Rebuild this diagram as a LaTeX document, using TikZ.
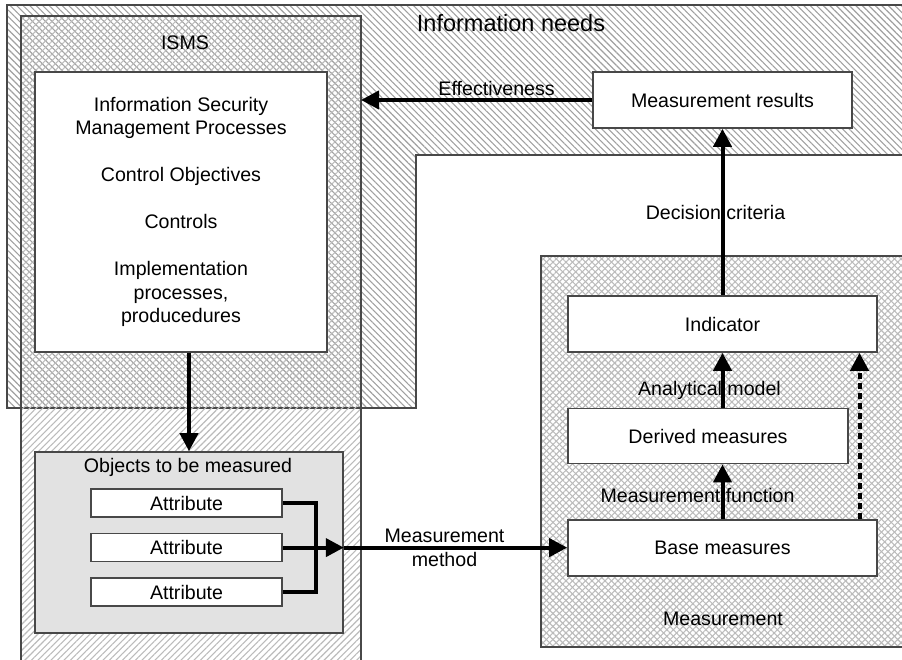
\documentclass[tikz,border=0pt]{standalone}
\usepackage{fontspec}
\setmainfont{Liberation Sans}
\usetikzlibrary{positioning}
\usetikzlibrary{arrows.meta}
\usetikzlibrary{patterns.meta}

\definecolor{edgegray}{HTML}{484848}
\definecolor{hatchgray}{HTML}{A0A0A0}
\definecolor{palehatch}{HTML}{BBBBBB}
\definecolor{objgray}{HTML}{E2E2E2}

\tikzset{
  box/.style={draw=edgegray, line width=1.6pt, fill=white, inner sep=0pt},
  region/.style={draw=edgegray, line width=1.8pt},
  needshatch/.style={pattern={Lines[angle=-45,distance=4.6pt,line width=1.1pt]}, pattern color=hatchgray},
  ismshatch/.style={pattern={Lines[angle=45,distance=4.6pt,line width=1.1pt]}, pattern color=palehatch},
  meascross/.style={pattern={Lines[angle=-45,distance=4.6pt,line width=1.1pt]}, pattern color=palehatch},
  flow/.style={line width=4pt, -{Triangle[length=18pt,width=18pt]}},
  lbl/.style={inner sep=0pt},
}

\begin{document}
\begin{tikzpicture}[x=1pt, y=-1pt, font=\fontsize{19.6}{23.5}\selectfont]
\useasboundingbox (0,0) rectangle (902,659);

% information needs area
\path[region, needshatch] (7,5) -- (912,5) -- (912,155) -- (416,155) -- (416,408) -- (7,408) -- cycle;
\node (needs) at (511,23) {\fontsize{23.5}{28}\selectfont Information needs};

% ISMS column
\path[region, ismshatch] (21,16) rectangle (361,672);
\node (ismstitle) at (185,43) {ISMS};
\node[box, minimum width=292pt, minimum height=280pt, align=center] (procs) at (181,212)
  {Information Security\\Management Processes\\[23.5pt]Control Objectives\\[23.5pt]Controls\\[23.5pt]Implementation\\processes,\\producedures};

% measurement area
\path[meascross] (541,256) rectangle (912,647);
\path[region, ismshatch] (541,256) rectangle (912,647);
\node (meastitle) at (723,619) {Measurement};

\node[box, minimum width=309pt, minimum height=56pt] (indicator) at (722.5,324) {Indicator};
\node[box, minimum width=280pt, minimum height=55pt, below=55pt of indicator.south west, anchor=north west] (derived) {Derived measures};
\node[box, minimum width=309pt, minimum height=56pt, below=55pt of derived.south west, anchor=north west] (base) {Base measures};

\node[box, minimum width=259pt, minimum height=56pt] (results) at (722.5,100) {Measurement results};

% objects
\node[box, fill=objgray, minimum width=308pt, minimum height=181pt] (objects) at (189,542.5) {};
\node (objtitle) at (188,467) {Objects to be measured};
\node[box, minimum width=191pt, minimum height=28pt] (attr1) at (186.5,503) {Attribute};
\node[box, minimum width=191pt, minimum height=28pt, below=15pt of attr1] (attr2) {Attribute};
\node[box, minimum width=191pt, minimum height=28pt, below=15pt of attr2] (attr3) {Attribute};

% connectors
\coordinate (ismsedge) at (361,100);
\draw[flow] (procs.south -| objects.north) -- (objects.north);
\draw[line width=4pt] (attr1.east) -- ++(33,0) |- (attr3.east);
\draw[flow] (attr2.east) -- (attr2.east -| objects.east);
\draw[flow] (attr2.east -| objects.east) -- node[lbl, align=center, xshift=-11pt] {Measurement\\method} (attr2.east -| base.west);
\draw[flow] (base.north) -- node[lbl, xshift=-25pt, yshift=-4pt] {Measurement function} (base.north |- derived.south);
\draw[flow] (indicator.south |- derived.north) -- node[lbl, xshift=-13pt, yshift=-10pt] {Analytical model} (indicator.south);
\draw[flow, dash pattern=on 6pt off 4pt] ([xshift=137pt]base.north) -- ([xshift=137pt]indicator.south);
\draw[flow] (indicator.north) -- node[lbl, xshift=-7pt] {Decision criteria} (results.south);
\draw[flow] (results.west) -- node[lbl, xshift=20pt, yshift=12pt] {Effectiveness} (ismsedge);
\end{tikzpicture}
\end{document}
